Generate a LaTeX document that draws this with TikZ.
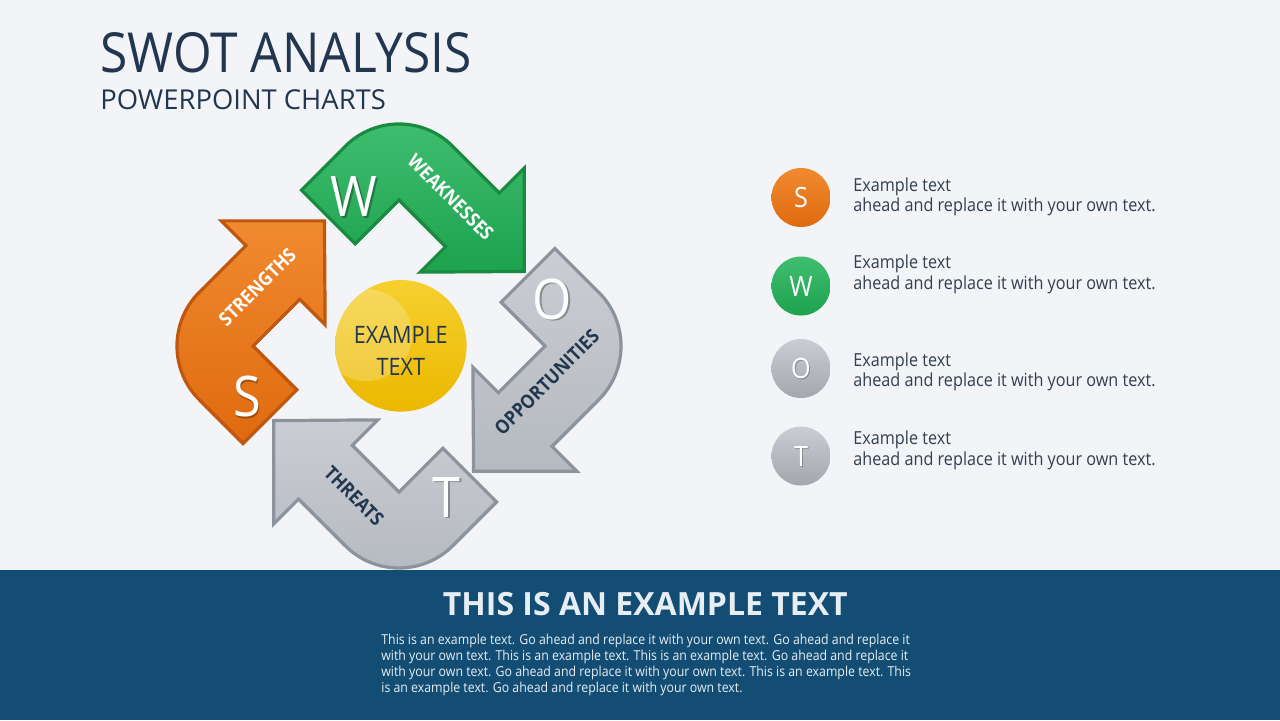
\documentclass[tikz,border=0pt]{standalone}
\usepackage{fontspec}
\setmainfont{Open Sans}[FakeStretch=0.9]
\newfontfamily\widefont{Open Sans}
\definecolor{bg}{HTML}{F2F4F7}
\definecolor{navy}{HTML}{22364F}
\definecolor{band}{HTML}{134D73}
\definecolor{orT}{HTML}{F08A30}
\definecolor{orB}{HTML}{E06A0E}
\definecolor{orD}{HTML}{C0570E}
\definecolor{grT}{HTML}{40BE70}
\definecolor{grB}{HTML}{1DA24E}
\definecolor{grD}{HTML}{1A8A40}
\definecolor{gyT}{HTML}{CACDD3}
\definecolor{gyB}{HTML}{B5B9C0}
\definecolor{gyD}{HTML}{8C939C}
\definecolor{yeT}{HTML}{F6D030}
\definecolor{yeB}{HTML}{EBB800}
\definecolor{txt}{HTML}{333F4F}
\definecolor{ptxt}{HTML}{E6EDF3}
\newcommand\swotarrowpath{(0,62) -- (0,0) -- (66,0) -- (66,36) -- (139,-38) -- (66,-111) -- (66,-76) -- (0,-76) .. controls (-42,-76) and (-76,-42) .. (-76,0) -- (-76,62) -- cycle}
\begin{document}
\begin{tikzpicture}[x=0.5pt,y=-0.5pt,
  arrowat/.style={shift={(399,346)}, rotate=#1, shift={(0,-146)}, rotate=-45},
  arrowbody/.style={line width=1.6pt, line join=miter},
  bigletter/.style={font=\fontsize{28}{30}\selectfont, text=white, inner sep=0},
  lettershadow/.style={font=\fontsize{28}{30}\selectfont, text=black, opacity=0.3, inner sep=0},
  arrlbl/.style={font=\bfseries\fontsize{9.6}{11}\selectfont, inner sep=0},
  legcircle/.style={circle, minimum size=29.5pt, inner sep=0},
  legletter/.style={font=\fontsize{14}{16}\selectfont, text=white, inner sep=0},
  legtxt/.style={font=\fontsize{9}{11}\selectfont, text=txt, inner sep=0, anchor=base west},
  ptxtline/.style={font=\fontsize{6.85}{8}\selectfont, text=ptxt, inner sep=0, anchor=base west}]
\useasboundingbox (0,0) rectangle (1280,720);
\fill[bg] (0,0) rectangle (1280,720);
% title
\node[inner sep=0, anchor=base west, text=navy, font=\fontsize{27.6}{30}\selectfont] (title) at (100,72.7) {SWOT ANALYSIS};
\node[inner sep=0, anchor=base west, text=navy, font=\widefont\fontsize{13.7}{16}\selectfont] (subtitle) at (100,109.3) {POWERPOINT CHARTS};
% arrows
\path[arrowat=90, arrowbody, draw=orD, top color=orT, bottom color=orB] \swotarrowpath;
\path[arrowat=0, arrowbody, draw=grD, top color=grT, bottom color=grB] \swotarrowpath;
\path[arrowat=-90, arrowbody, draw=gyD, top color=gyT, bottom color=gyB] \swotarrowpath;
\path[arrowat=180, arrowbody, draw=gyD, top color=gyT, bottom color=gyB] \swotarrowpath;
% arrow labels
\node[arrlbl, text=white, rotate=-45] (wk) at (450.7,197.3) {WEAKNESSES};
\node[arrlbl, text=white, rotate=45] (st) at (257.3,287.3) {STRENGTHS};
\node[arrlbl, text=navy, rotate=45] (op) at (546.7,382.3) {OPPORTUNITIES};
\node[arrlbl, text=navy, rotate=-45] (th) at (354,495.7) {THREATS};
% big letters
\node[lettershadow] (ws) at (355.5,198.2) {W};
\node[bigletter] (w) at (354,196.7) {W};
\node[lettershadow] (ss) at (248.8,398.2) {S};
\node[bigletter] (s) at (247.3,396.7) {S};
\node[lettershadow] (os) at (553.8,300.5) {O};
\node[bigletter] (o) at (552.3,299) {O};
\node[lettershadow] (ts) at (448.2,498.8) {T};
\node[bigletter] (t) at (446.7,497.3) {T};
% centre circle
\node[circle, minimum size=65.8pt, inner sep=0, top color=yeT, bottom color=yeB] (ctr) at (400.8,345.8) {};
\begin{scope}
\clip (400.8,345.8) circle[radius=65.8];
\fill[white, opacity=0.22] (366,335) circle[radius=46];
\end{scope}
\node[inner sep=0, anchor=base, text=navy, font=\fontsize{12}{14}\selectfont] (ex1) at (400.8,343.3) {EXAMPLE};
\node[inner sep=0, anchor=base, text=navy, font=\fontsize{12}{14}\selectfont] (ex2) at (400.8,375) {TEXT};
% legend
\node[legcircle, top color=orT, bottom color=orB] (ls) at (801,197.5) {};
\node[legletter] (lsl) at (ls) {S};
\node[legcircle, top color=grT, bottom color=grB] (lw) at (801,286) {};
\node[legletter] (lwl) at (lw) {W};
\node[legcircle, top color=gyT, bottom color=gyB!90!black] (lo) at (801,368.5) {};
\node[legletter, text=black, opacity=0.25] (lols) at (802,369.5) {O};
\node[legletter] (lol) at (lo) {O};
\node[legcircle, top color=gyT, bottom color=gyB!90!black] (lt) at (801,456) {};
\node[legletter, text=black, opacity=0.25] (ltls) at (802,457) {T};
\node[legletter] (ltl) at (lt) {T};
\node[legtxt] (s1) at (853,191) {Example text};
\node[legtxt] (s2) at (853,211.7) {ahead and replace it with your own text.};
\node[legtxt] (w1) at (853,268.3) {Example text};
\node[legtxt] (w2) at (853,289.3) {ahead and replace it with your own text.};
\node[legtxt] (o1) at (853,366) {Example text};
\node[legtxt] (o2) at (853,386.7) {ahead and replace it with your own text.};
\node[legtxt] (t1) at (853,444.3) {Example text};
\node[legtxt] (t2) at (853,465) {ahead and replace it with your own text.};
% bottom band
\fill[band] (0,569.5) rectangle (1280,720);
\node[inner sep=0, anchor=base, text=ptxt, font=\widefont\bfseries\fontsize{16}{18}\selectfont] (bt) at (645.3,615) {THIS IS AN EXAMPLE TEXT};
\node[ptxtline] (p1) at (381,644.5) {This is an example text. Go ahead and replace it with your own text. Go ahead and replace it};
\node[ptxtline] (p2) at (381,660.5) {with your own text. This is an example text. This is an example text. Go ahead and replace it};
\node[ptxtline] (p3) at (381,676.5) {with your own text. Go ahead and replace it with your own text. This is an example text. This};
\node[ptxtline] (p4) at (381,692.5) {is an example text. Go ahead and replace it with your own text.};
\end{tikzpicture}
\end{document}
